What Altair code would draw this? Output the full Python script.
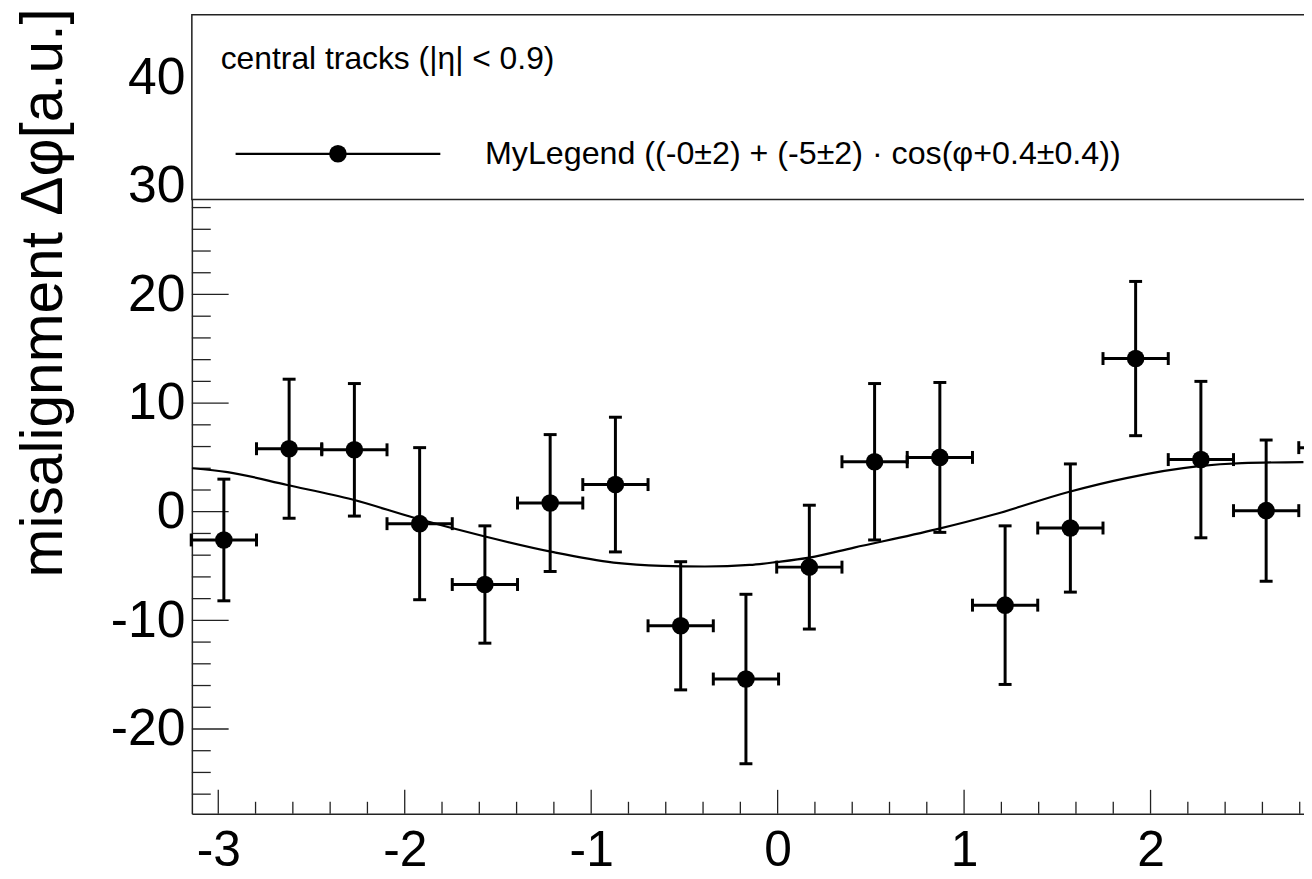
import altair as alt
import pandas as pd

# ---------------- data ----------------
phi = [-2.97, -2.62, -2.27, -1.92, -1.57, -1.22, -0.87, -0.52, -0.17,
       0.17, 0.52, 0.87, 1.22, 1.57, 1.92, 2.27, 2.62, 2.97]
phi_err = [0.175, 0.175, 0.175, 0.175, 0.175, 0.175, 0.175, 0.175, 0.175,
           0.175, 0.175, 0.175, 0.175, 0.175, 0.175, 0.175, 0.175, 0.175]
misalignment = [-2.6, 5.8, 5.7, -1.1, -6.7, 0.8, 2.5, -10.5, -15.4,
                -5.1, 4.6, 5.0, -8.6, -1.5, 14.1, 4.8, 0.1, 5.9]
misalignment_err = [5.6, 6.4, 6.1, 7.0, 5.4, 6.3, 6.2, 5.9, 7.8,
                    5.7, 7.2, 6.9, 7.3, 5.9, 7.1, 7.2, 6.5, 6.5]

fit_phi = [-3.14, -2.95, -2.63, -2.28, -1.95, -1.58, -1.21, -0.88, -0.62,
           -0.39, -0.15, 0.0, 0.17, 0.41, 0.85, 1.16, 1.56, 1.87, 2.26,
           2.49, 2.82]
fit_value = [4.0, 3.65, 2.46, 1.12, -0.56, -2.24, -3.7, -4.68, -4.98,
             -5.04, -4.9, -4.62, -4.22, -3.3, -1.63, -0.26, 1.82, 3.1, 4.2,
             4.47, 4.57]

x_major_ticks = [-3, -2, -1, 0, 1, 2]
x_minor_ticks = [-2.8, -2.6, -2.4, -2.2, -1.8, -1.6, -1.4, -1.2,
                 -0.8, -0.6, -0.4, -0.2, 0.2, 0.4, 0.6, 0.8,
                 1.2, 1.4, 1.6, 1.8, 2.2, 2.4, 2.6, 2.8]
y_major_ticks = [-20, -10, 0, 10, 20, 30, 40]
y_minor_ticks = [-26, -24, -22, -18, -16, -14, -12, -8, -6, -4, -2,
                 2, 4, 6, 8, 12, 14, 16, 18, 22, 24, 26, 28]

x_domain = [-3.1416, 2.823]
y_domain = [-27.8, 45.76]
legend_box_bottom = 28.75
legend_box_right = 3.6

y_title = "misalignment Δφ[a.u.]"
legend_header = "central tracks (|η| < 0.9)"
legend_entry = "MyLegend ((-0±2) + (-5±2) · cos(φ+0.4±0.4))"

# ---------------- chart ----------------
W, H = 1119, 804
FONT = "Liberation Sans"
FRAME = "#222222"

pts = pd.DataFrame({"phi": phi, "ex": phi_err, "val": misalignment, "ey": misalignment_err})
pts["xlo"] = pts["phi"] - pts["ex"]
pts["xhi"] = pts["phi"] + pts["ex"]
pts["ylo"] = pts["val"] - pts["ey"]
pts["yhi"] = pts["val"] + pts["ey"]

fit = pd.DataFrame({"phi": fit_phi, "val": fit_value})

xs = alt.Scale(domain=x_domain, nice=False, zero=False)
ys = alt.Scale(domain=y_domain, nice=False, zero=False)

axis_layer = alt.Chart(pd.DataFrame({"phi": [x_domain[0]], "val": [y_domain[0]]})).mark_point(opacity=0).encode(
    x=alt.X("phi:Q", scale=xs, axis=alt.Axis(
        values=x_major_ticks, ticks=False, grid=False, domain=True,
        domainColor=FRAME, domainWidth=1.5, labelFont=FONT, labelFontSize=50,
        labelColor="black", labelPadding=52, labelBaseline="alphabetic",
        labelOverlap=False, labelFlush=False, labelExpr="'' + datum.value",
        title=None)),
    y=alt.Y("val:Q", scale=ys, axis=alt.Axis(
        values=y_major_ticks, ticks=False, grid=False, domain=True,
        domainColor=FRAME, domainWidth=1.5, labelFont=FONT, labelFontSize=52,
        labelColor="black", labelPadding=7, labelOverlap=False, labelFlush=False,
        labelExpr="'' + datum.value",
        title=y_title, titleFont=FONT, titleFontSize=59, titleFontWeight="normal",
        titleColor="black", titleAngle=270, titleAlign="right",
        titleBaseline="alphabetic", titleX=-131, titleY=-7)),
)

xmaj = alt.Chart(pd.DataFrame({"phi": x_major_ticks})).mark_rule(color=FRAME, strokeWidth=1.3).encode(
    x=alt.X("phi:Q", scale=xs), y=alt.value(H), y2=alt.value(H - 24))
xmin = alt.Chart(pd.DataFrame({"phi": x_minor_ticks})).mark_rule(color=FRAME, strokeWidth=1.3).encode(
    x=alt.X("phi:Q", scale=xs), y=alt.value(H), y2=alt.value(H - 12))
ymaj = alt.Chart(pd.DataFrame({"val": y_major_ticks})).mark_rule(color=FRAME, strokeWidth=1.3).encode(
    y=alt.Y("val:Q", scale=ys), x=alt.value(0), x2=alt.value(37))
ymin = alt.Chart(pd.DataFrame({"val": y_minor_ticks})).mark_rule(color=FRAME, strokeWidth=1.3).encode(
    y=alt.Y("val:Q", scale=ys), x=alt.value(0), x2=alt.value(19))

curve = alt.Chart(fit).mark_line(color="black", strokeWidth=2.2, interpolate="monotone").encode(
    x=alt.X("phi:Q", scale=xs), y=alt.Y("val:Q", scale=ys))

base = alt.Chart(pts)
vbar = base.mark_rule(color="black", strokeWidth=3).encode(
    x=alt.X("phi:Q", scale=xs), y=alt.Y("ylo:Q", scale=ys), y2="yhi:Q")
hbar = base.mark_rule(color="black", strokeWidth=3).encode(
    x=alt.X("xlo:Q", scale=xs), x2="xhi:Q", y=alt.Y("val:Q", scale=ys))
cap_lo = base.mark_tick(color="black", orient="horizontal", size=13, thickness=3, opacity=1).encode(
    x=alt.X("phi:Q", scale=xs), y=alt.Y("ylo:Q", scale=ys))
cap_hi = base.mark_tick(color="black", orient="horizontal", size=13, thickness=3, opacity=1).encode(
    x=alt.X("phi:Q", scale=xs), y=alt.Y("yhi:Q", scale=ys))
cap_l = base.mark_tick(color="black", orient="vertical", size=13, thickness=3, opacity=1).encode(
    x=alt.X("xlo:Q", scale=xs), y=alt.Y("val:Q", scale=ys))
cap_r = base.mark_tick(color="black", orient="vertical", size=13, thickness=3, opacity=1).encode(
    x=alt.X("xhi:Q", scale=xs), y=alt.Y("val:Q", scale=ys))
dots = base.mark_circle(color="black", size=314, opacity=1).encode(
    x=alt.X("phi:Q", scale=xs), y=alt.Y("val:Q", scale=ys))

box = alt.Chart(pd.DataFrame({"x1": [x_domain[0]], "x2": [legend_box_right],
                              "y1": [y_domain[1]], "y2": [legend_box_bottom]})).mark_rect(
    fill="white", stroke=FRAME, strokeWidth=1.5).encode(
    x=alt.X("x1:Q", scale=xs), x2="x2:Q",
    y=alt.Y("y1:Q", scale=ys), y2="y2:Q")

one = pd.DataFrame({"k": [0]})
leg_head = alt.Chart(one).mark_text(text=legend_header, font=FONT, fontSize=32, align="left",
                                    baseline="alphabetic", color="black").encode(
    x=alt.value(29), y=alt.value(55))
leg_line = alt.Chart(one).mark_rule(color="black", strokeWidth=2.2).encode(
    x=alt.value(44), x2=alt.value(250), y=alt.value(140))
leg_dot = alt.Chart(one).mark_circle(color="black", size=314, opacity=1).encode(
    x=alt.value(147), y=alt.value(140))
leg_text = alt.Chart(one).mark_text(text=legend_entry, font=FONT, fontSize=32.4, align="left",
                                    baseline="alphabetic", color="black").encode(
    x=alt.value(295), y=alt.value(150))

chart = alt.layer(
    axis_layer, xmin, xmaj, ymin, ymaj, curve, vbar, hbar, cap_lo, cap_hi, cap_l, cap_r, dots,
    box, leg_head, leg_line, leg_dot, leg_text
).properties(
    width=W, height=H,
    autosize=alt.AutoSizeParams(type="none"),
    padding={"left": 185, "right": 0, "top": 4, "bottom": 63},
).configure_view(stroke=None)

chart.save("out.html", embed_options={"renderer": "svg", "actions": False})
